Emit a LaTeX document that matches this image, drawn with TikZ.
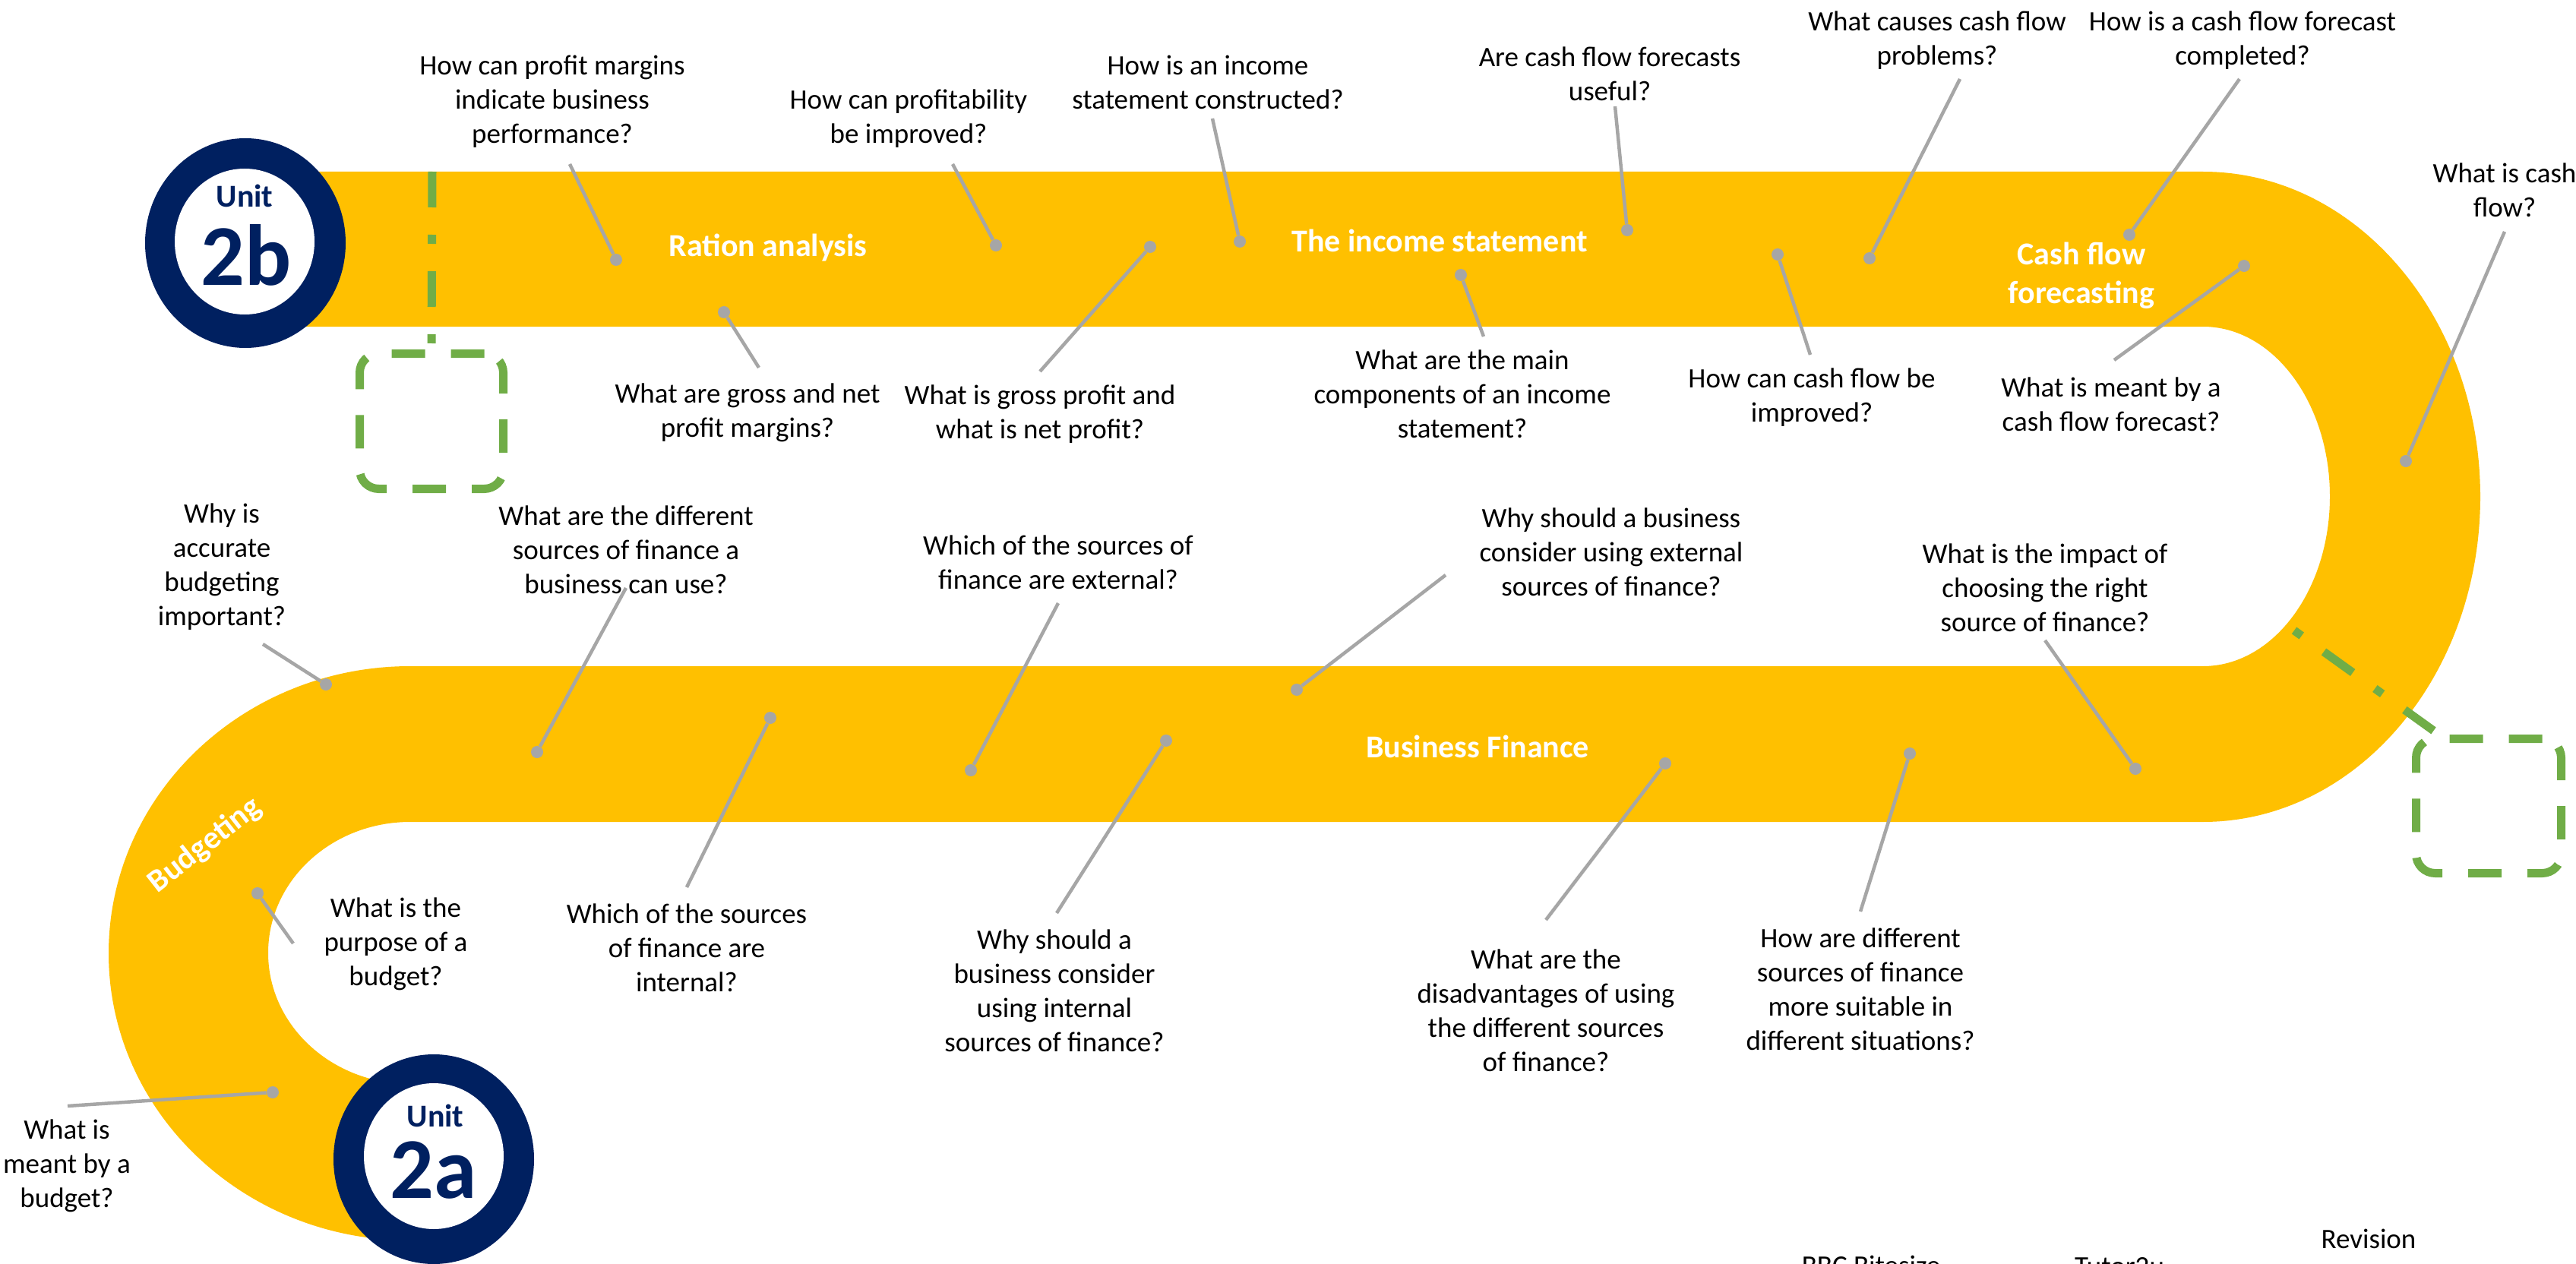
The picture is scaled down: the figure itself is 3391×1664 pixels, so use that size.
\documentclass[tikz,border=0pt]{standalone}
\usepackage{fontspec}
\setmainfont{Carlito}
\usetikzlibrary{shapes.geometric}
\definecolor{bandyellow}{HTML}{FFC000}
\definecolor{navy}{HTML}{002060}
\definecolor{linegrey}{HTML}{A6A6A6}
\definecolor{leafgreen}{HTML}{70AD47}
\begin{document}
\begin{tikzpicture}[x=0.5pt,y=-0.5pt,
  q/.style={font=\fontsize{18.5pt}{22.5pt}\selectfont, align=center, inner sep=0pt, text=black},
  lab/.style={font=\bfseries\fontsize{21pt}{25.5pt}\selectfont, text=white, inner sep=0pt, align=center},
  conn/.style={draw=linegrey, line width=2.25pt},
  qdot/.style={circle, fill=linegrey, minimum size=8pt, inner sep=0pt},
  greenbox/.style={draw=leafgreen, line width=5.5pt, rounded corners=12.5pt, dash pattern=on 22pt off 17pt, inner sep=0pt},
  gline/.style={draw=leafgreen, line width=5.5pt},
  unitring/.style={ellipse, fill=navy, minimum width=132pt, minimum height=138pt, inner sep=0pt},
  unithole/.style={ellipse, fill=white, minimum width=92pt, minimum height=96pt, inner sep=0pt},
  unitword/.style={font=\bfseries\fontsize{21pt}{25pt}\selectfont, text=navy, inner sep=0pt},
  unitnum/.style={font=\bfseries\fontsize{57pt}{60pt}\selectfont, text=navy, inner sep=0pt},
]
\useasboundingbox (0,0) rectangle (3391,1664);
\clip (0,0) rectangle (3391,1664);

% ---- the road ----
\fill[bandyellow] (380,226) -- (2900,226)
  arc[start angle=90, end angle=-90, x radius=182.5pt, y radius=214pt]
  -- (540,1082)
  arc[start angle=90, end angle=270, x radius=93.5pt, y radius=86.25pt]
  -- (540,1633)
  arc[start angle=270, end angle=90, x radius=198.5pt, y radius=189pt]
  -- (2900,877)
  arc[start angle=-90, end angle=90, x radius=83.5pt, y radius=111.75pt]
  -- (380,430) -- cycle;

% ---- green markers ----
\node[greenbox, minimum width=94.5pt, minimum height=89pt] (boxL) at (568,554.5) {};
\node[greenbox, minimum width=95.5pt, minimum height=88.5pt] (boxR) at (3276,1061) {};
\coordinate (gL) at (569,226);
\coordinate (gR) at (3020,830);
\draw[gline, dash pattern=on 23.5pt off 18pt on 6pt off 18pt] (gL) -- (boxL.north);
\draw[gline, dash pattern=on 6pt off 18pt on 23.5pt off 18pt] (gR) -- ([xshift=15pt,yshift=2pt]boxR.north west);

% ---- dots ----
\node[qdot] (d1) at (811,342) {};
\node[qdot] (d2) at (1311,323) {};
\node[qdot] (d3) at (1632,318) {};
\node[qdot] (d4) at (2142,303) {};
\node[qdot] (d5) at (2461,340) {};
\node[qdot] (d6) at (2803,309) {};
\node[qdot] (d7) at (3167,607) {};
\node[qdot] (e1) at (953,411) {};
\node[qdot] (e2) at (1514,325) {};
\node[qdot] (e3) at (1923,362) {};
\node[qdot] (e4) at (2340,335) {};
\node[qdot] (e5) at (2954,350) {};
\node[qdot] (f1) at (429,901) {};
\node[qdot] (f2) at (707,990) {};
\node[qdot] (f3) at (1278,1014) {};
\node[qdot] (f4) at (1707,908) {};
\node[qdot] (f5) at (2811,1012) {};
\node[qdot] (g1) at (1014,945) {};
\node[qdot] (g2) at (1535,975) {};
\node[qdot] (g3) at (2192,1005) {};
\node[qdot] (g4) at (2514,992) {};
\node[qdot] (g5) at (339,1176) {};
\node[qdot] (g6) at (359,1438) {};

% ---- connector start points ----
\coordinate (c1) at (750,216);
\coordinate (c2) at (1254,216);
\coordinate (c3) at (1596,156);
\coordinate (c4) at (2126,140);
\coordinate (c5) at (2580,104);
\coordinate (c6) at (2948,104);
\coordinate (c7) at (3297,305);
\coordinate (k1) at (999,484);
\coordinate (k2) at (1369,489);
\coordinate (k3) at (1953,443);
\coordinate (k4) at (2383,467);
\coordinate (k5) at (2783,474);
\coordinate (m1) at (346,848);
\coordinate (m2) at (824,774);
\coordinate (m3) at (1393,794);
\coordinate (m4) at (1903,757);
\coordinate (m5) at (2692,843);
\coordinate (n1) at (904,1168);
\coordinate (n2) at (1391,1202);
\coordinate (n3) at (2035,1211);
\coordinate (n4) at (2449,1200);
\coordinate (n5) at (386,1242);
\coordinate (n6) at (89,1456);

\foreach \a/\b in {c1/d1,c2/d2,c3/d3,c4/d4,c5/d5,c6/d6,c7/d7,
                   k1/e1,k2/e2,k3/e3,k4/e4,k5/e5,
                   m1/f1,m2/f2,m3/f3,m4/f4,m5/f5,
                   n1/g1,n2/g2,n3/g3,n4/g4,n5/g5,n6/g6}
  \draw[conn] (\a) -- (\b);

% ---- road labels ----
\node[lab, anchor=base] (ra) at (1011,337) {Ration analysis};
\node[lab, anchor=base] (is) at (1895,332) {The income statement};
\node[lab] (cf) at (2740,363) {Cash flow\\forecasting};
\node[lab, anchor=base] (bf) at (1945,997) {Business Finance};
\node[lab, rotate=38] (bud) at (270,1113) {Budgeting};

% ---- questions ----
\node[q] (t1) at (727,134) {How can profit margins\\indicate business\\performance?};
\node[q] (t2) at (1196,156) {How can profitability\\be improved?};
\node[q] (t3) at (1590,108) {How is an income\\statement constructed?};
\node[q] (t4) at (2119,97) {Are cash flow forecasts\\useful?};
\node[q] (t5) at (2550,53) {What causes cash flow\\problems?};
\node[q] (t6) at (2952,53) {How is a cash flow forecast\\completed?};
\node[q] (t7) at (3297,250) {What is cash\\flow?};

\node[q] (b1) at (984,543) {What are gross and net\\profit margins?};
\node[q] (b2) at (1369,545) {What is gross profit and\\what is net profit?};
\node[q] (b3) at (1925,519) {What are the main\\components of an income\\statement?};
\node[q] (b4) at (2385,523) {How can cash flow be\\improved?};
\node[q] (b5) at (2779,532) {What is meant by a\\cash flow forecast?};

\node[q] (a1) at (292,746) {Why is\\accurate\\budgeting\\important?};
\node[q] (a2) at (824,724) {What are the different\\sources of finance a\\business can use?};
\node[q] (a3) at (1393,740) {Which of the sources of\\finance are external?};
\node[q] (a4) at (2121,727) {Why should a business\\consider using external\\sources of finance?};
\node[q] (a5) at (2692,774) {What is the impact of\\choosing the right\\source of finance?};

\node[q] (s1) at (904,1248) {Which of the sources\\of finance are\\internal?};
\node[q] (s2) at (1388,1304) {Why should a\\business consider\\using internal\\sources of finance?};
\node[q] (s3) at (2035,1330) {What are the\\disadvantages of using\\the different sources\\of finance?};
\node[q] (s4) at (2449,1302) {How are different\\sources of finance\\more suitable in\\different situations?};
\node[q] (s5) at (521,1243) {What is the\\purpose of a\\budget?};
\node[q] (s6) at (88,1535) {What is\\meant by a\\budget?};

% ---- resources (cut at the page edge, as in the reference) ----
\node[q, anchor=base] (r1) at (2463,1678) {BBC Bitesize};
\node[q, anchor=base] (r2) at (2790,1679) {Tutor2u};
\node[q, anchor=base] (r3) at (3118,1643) {Revision};

% ---- unit badges ----
\node[unitring] (u2b) at (323,320) {};
\node[unithole] (u2bh) at (322,318) {};
\node[unitword, anchor=base] (u2bw) at (322,273) {Unit};
\node[unitnum, anchor=base] (u2bn) at (324,375) {2b};

\node[unitring] (u2a) at (571,1526) {};
\node[unithole] (u2ah) at (571,1522) {};
\node[unitword, anchor=base] (u2aw) at (573,1483) {Unit};
\node[unitnum, anchor=base] (u2an) at (571,1577) {2a};
\end{tikzpicture}
\end{document}
